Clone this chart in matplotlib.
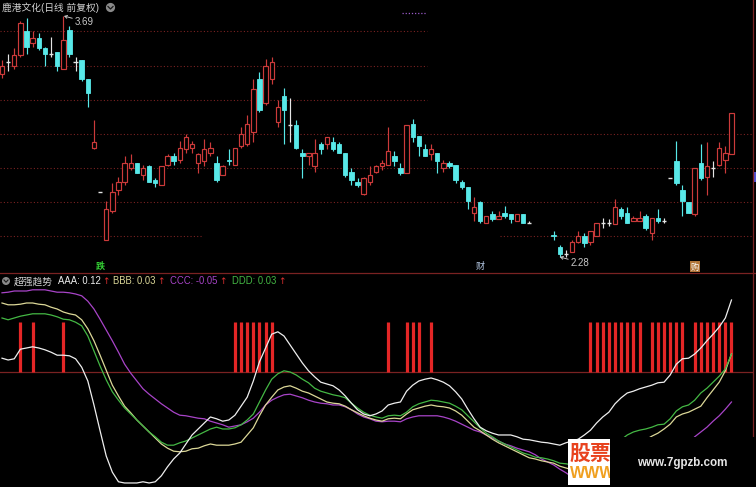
import matplotlib
matplotlib.use("Agg")
import matplotlib.pyplot as plt
from matplotlib.patches import Rectangle, Circle
from matplotlib.lines import Line2D

plt.rcParams['font.family'] = ['Liberation Sans', 'Noto Sans CJK SC', 'DejaVu Sans']

# ---------------- daily prices (None = suspended session) ----------------
opens = [3.35, 3.42, 3.40, 3.46, 3.60, 3.53, 3.56, 3.50, 3.47, 3.48,
         3.38, 3.61, 3.42, 3.43, 3.32, 2.92, 2.66, 2.38, 2.55, 2.67,
         2.72, 2.80, 2.83, 2.76, 2.81, 2.73, 2.70, 2.82, 2.87, 2.85,
         2.91, 2.92, 2.83, 2.84, 2.89, 2.83, 2.76, 2.85, 2.82, 2.93,
         2.94, 3.01, 3.32, 3.18, 3.32, 3.07, 3.22, 3.05, 3.05, 2.89,
         2.87, 2.81, 2.94, 2.94, 2.95, 2.94, 2.89, 2.78, 2.72, 2.65,
         2.72, 2.78, 2.81, 2.82, 2.87, 2.80, 2.77, 3.06, 2.99, 2.91,
         2.88, 2.89, 2.80, 2.83, 2.82, 2.72, 2.69, 2.54, 2.60, 2.48,
         2.53, 2.50, 2.54, 2.53, 2.49, 2.53, 2.48, None, None, None,
         2.41, 2.34, 2.30, 2.31, 2.37, 2.40, 2.37, 2.40, 2.48, 2.48,
         2.47, 2.56, 2.54, 2.49, 2.49, 2.52, 2.42, 2.51, 2.49, 2.74,
         2.84, 2.67, 2.60, 2.53, 2.83, 2.75, 2.80, 2.82, 2.85, 2.88]
highs = [3.43, 3.47, 3.50, 3.66, 3.68, 3.60, 3.59, 3.51, 3.57, 3.48,
         3.69, 3.63, 3.45, 3.43, 3.32, 3.08, 2.66, 2.61, 2.71, 2.75,
         2.87, 2.88, 2.83, 2.82, 2.82, 2.74, 2.81, 2.88, 2.89, 2.96,
         3.00, 2.96, 2.89, 2.97, 2.95, 2.87, 2.82, 2.91, 2.92, 3.04,
         3.11, 3.32, 3.36, 3.44, 3.45, 3.20, 3.27, 3.21, 3.08, 2.91,
         2.89, 2.97, 2.95, 2.98, 2.98, 2.95, 2.89, 2.80, 2.74, 2.75,
         2.81, 2.82, 2.85, 3.04, 2.90, 2.83, 3.05, 3.09, 2.99, 2.94,
         2.94, 2.89, 2.85, 2.84, 2.82, 2.73, 2.69, 2.63, 2.61, 2.52,
         2.55, 2.55, 2.58, 2.53, 2.53, 2.53, 2.49, None, None, None,
         2.43, 2.35, 2.32, 2.38, 2.43, 2.42, 2.43, 2.48, 2.51, 2.50,
         2.62, 2.57, 2.57, 2.52, 2.55, 2.53, 2.51, 2.56, 2.51, 2.74,
         2.96, 2.70, 2.60, 2.80, 2.94, 2.95, 2.84, 2.95, 2.93, 3.12]
lows = [3.33, 3.37, 3.38, 3.45, 3.47, 3.51, 3.49, 3.40, 3.45, 3.37,
        3.38, 3.45, 3.37, 3.31, 3.16, 2.91, 2.66, 2.38, 2.54, 2.64,
        2.70, 2.79, 2.77, 2.73, 2.72, 2.69, 2.70, 2.81, 2.82, 2.83,
        2.89, 2.89, 2.77, 2.81, 2.87, 2.72, 2.76, 2.82, 2.82, 2.92,
        2.93, 2.95, 3.13, 3.17, 3.29, 3.04, 2.94, 2.95, 2.91, 2.74,
        2.82, 2.78, 2.88, 2.91, 2.90, 2.89, 2.75, 2.70, 2.69, 2.64,
        2.70, 2.77, 2.79, 2.82, 2.81, 2.76, 2.77, 2.95, 2.87, 2.87,
        2.85, 2.77, 2.78, 2.80, 2.71, 2.68, 2.56, 2.49, 2.48, 2.48,
        2.49, 2.50, 2.51, 2.48, 2.49, 2.48, 2.48, None, None, None,
        2.38, 2.28, 2.28, 2.31, 2.36, 2.34, 2.35, 2.40, 2.45, 2.46,
        2.47, 2.50, 2.48, 2.49, 2.49, 2.44, 2.38, 2.48, 2.48, 2.74,
        2.70, 2.52, 2.54, 2.52, 2.73, 2.64, 2.75, 2.81, 2.77, 2.88]
closes = [3.40, 3.42, 3.46, 3.65, 3.51, 3.56, 3.50, 3.47, 3.47, 3.40,
          3.55, 3.47, 3.42, 3.32, 3.24, 2.95, 2.66, 2.56, 2.66, 2.72,
          2.83, 2.83, 2.77, 2.80, 2.72, 2.71, 2.81, 2.87, 2.84, 2.92,
          2.98, 2.94, 2.88, 2.91, 2.92, 2.73, 2.81, 2.84, 2.92, 3.00,
          3.06, 3.26, 3.14, 3.40, 3.42, 3.16, 3.14, 3.05, 2.92, 2.87,
          2.89, 2.89, 2.91, 2.98, 2.91, 2.89, 2.76, 2.73, 2.70, 2.74,
          2.76, 2.81, 2.83, 2.90, 2.84, 2.77, 3.05, 2.98, 2.93, 2.87,
          2.91, 2.84, 2.83, 2.81, 2.73, 2.69, 2.61, 2.57, 2.49, 2.52,
          2.50, 2.52, 2.52, 2.50, 2.53, 2.48, 2.48, None, None, None,
          2.40, 2.30, 2.30, 2.37, 2.40, 2.36, 2.43, 2.48, 2.48, 2.48,
          2.57, 2.52, 2.48, 2.51, 2.51, 2.45, 2.51, 2.49, 2.49, 2.74,
          2.71, 2.61, 2.54, 2.80, 2.74, 2.81, 2.80, 2.92, 2.89, 3.12]

price_grid = [3.6, 3.4, 3.2, 3.0, 2.8, 2.6, 2.4]

# ---------------- 超强趋势 indicator ----------------
aaa = [0.023, 0.020, 0.022, 0.038, 0.040, 0.042, 0.040, 0.037, 0.033, 0.028,
       0.028, 0.027, 0.022, 0.008, -0.015, -0.055, -0.098, -0.140, -0.167, -0.183,
       -0.185, -0.185, -0.185, -0.183, -0.185, -0.183, -0.173, -0.158, -0.145, -0.135,
       -0.120, -0.105, -0.095, -0.085, -0.075, -0.078, -0.082, -0.080, -0.072, -0.057,
       -0.042, -0.015, 0.017, 0.040, 0.063, 0.067, 0.060, 0.045, 0.030, 0.015,
       0.002, -0.008, -0.017, -0.020, -0.023, -0.030, -0.040, -0.052, -0.063, -0.070,
       -0.073, -0.070, -0.065, -0.055, -0.052, -0.050, -0.032, -0.022, -0.015, -0.012,
       -0.010, -0.013, -0.017, -0.023, -0.033, -0.045, -0.062, -0.078, -0.092, -0.098,
       -0.102, -0.105, -0.105, -0.105, -0.108, -0.112, -0.113, -0.115, -0.117, -0.118,
       -0.120, -0.122, -0.118, -0.115, -0.112, -0.105, -0.097, -0.085, -0.075, -0.067,
       -0.053, -0.043, -0.035, -0.032, -0.028, -0.025, -0.022, -0.018, -0.017, -0.005,
       0.013, 0.022, 0.023, 0.030, 0.040, 0.052, 0.063, 0.075, 0.090, 0.120]
bbb = [0.115, 0.112, 0.112, 0.113, 0.115, 0.115, 0.113, 0.112, 0.108, 0.105,
       0.100, 0.097, 0.095, 0.087, 0.072, 0.052, 0.028, 0.003, -0.022, -0.040,
       -0.057, -0.068, -0.080, -0.090, -0.100, -0.110, -0.120, -0.127, -0.132, -0.133,
       -0.132, -0.128, -0.127, -0.123, -0.120, -0.122, -0.122, -0.122, -0.120, -0.117,
       -0.105, -0.093, -0.073, -0.055, -0.042, -0.030, -0.025, -0.023, -0.027, -0.032,
       -0.035, -0.040, -0.045, -0.050, -0.052, -0.053, -0.057, -0.063, -0.068, -0.073,
       -0.077, -0.080, -0.082, -0.078, -0.077, -0.078, -0.070, -0.063, -0.060, -0.057,
       -0.055, -0.057, -0.058, -0.060, -0.065, -0.072, -0.082, -0.092, -0.098, -0.105,
       -0.112, -0.118, -0.123, -0.128, -0.133, -0.138, -0.143, -0.145, -0.148, -0.150,
       -0.152, -0.157, -0.160, -0.163, -0.165, -0.165, -0.163, -0.160, -0.157, -0.152,
       -0.147, -0.140, -0.133, -0.127, -0.120, -0.113, -0.107, -0.102, -0.095, -0.087,
       -0.075, -0.070, -0.067, -0.062, -0.057, -0.043, -0.030, -0.017, 0.002, 0.030]
ccc = [0.132, 0.133, 0.135, 0.135, 0.135, 0.137, 0.137, 0.137, 0.135, 0.133,
       0.133, 0.132, 0.130, 0.127, 0.118, 0.105, 0.088, 0.070, 0.052, 0.033,
       0.013, -0.002, -0.015, -0.028, -0.037, -0.045, -0.053, -0.060, -0.067, -0.072,
       -0.073, -0.075, -0.077, -0.078, -0.082, -0.085, -0.088, -0.092, -0.090, -0.088,
       -0.083, -0.077, -0.067, -0.055, -0.047, -0.042, -0.038, -0.037, -0.040, -0.043,
       -0.047, -0.050, -0.052, -0.053, -0.055, -0.055, -0.058, -0.063, -0.070, -0.075,
       -0.078, -0.082, -0.083, -0.082, -0.082, -0.083, -0.078, -0.075, -0.073, -0.073,
       -0.073, -0.073, -0.075, -0.078, -0.082, -0.087, -0.092, -0.097, -0.100, -0.105,
       -0.110, -0.115, -0.120, -0.123, -0.127, -0.130, -0.133, -0.138, -0.145, -0.150,
       -0.155, -0.162, -0.168, -0.175, -0.180, -0.183, -0.185, -0.187, -0.187, -0.187,
       -0.187, -0.187, -0.185, -0.183, -0.180, -0.175, -0.168, -0.162, -0.155, -0.147,
       -0.138, -0.130, -0.120, -0.108, -0.100, -0.092, -0.082, -0.073, -0.062, -0.050]
ddd = [0.090, 0.087, 0.090, 0.093, 0.095, 0.097, 0.097, 0.097, 0.095, 0.092,
       0.088, 0.087, 0.083, 0.077, 0.060, 0.035, 0.010, -0.013, -0.033, -0.047,
       -0.060, -0.070, -0.080, -0.090, -0.100, -0.108, -0.117, -0.122, -0.122, -0.118,
       -0.115, -0.110, -0.105, -0.100, -0.095, -0.092, -0.095, -0.095, -0.093, -0.088,
       -0.080, -0.070, -0.050, -0.030, -0.012, -0.003, 0.002, 0.000, -0.005, -0.012,
       -0.018, -0.027, -0.032, -0.035, -0.038, -0.040, -0.043, -0.052, -0.060, -0.067,
       -0.072, -0.075, -0.077, -0.073, -0.072, -0.073, -0.067, -0.058, -0.053, -0.050,
       -0.047, -0.048, -0.050, -0.052, -0.057, -0.063, -0.073, -0.083, -0.093, -0.102,
       -0.108, -0.115, -0.120, -0.125, -0.130, -0.135, -0.138, -0.142, -0.143, -0.145,
       -0.148, -0.152, -0.153, -0.155, -0.155, -0.153, -0.150, -0.145, -0.138, -0.132,
       -0.125, -0.113, -0.105, -0.100, -0.097, -0.095, -0.092, -0.088, -0.087, -0.078,
       -0.065, -0.058, -0.055, -0.047, -0.035, -0.027, -0.017, -0.007, 0.005, 0.030]

signal_days = [3, 5, 10, 38, 39, 40, 41, 42, 43, 44, 63, 66, 67, 68, 70,
               96, 97, 98, 99, 100, 101, 102, 103, 104,
               106, 107, 108, 109, 110, 111,
               113, 114, 115, 116, 117, 118, 119]
signal_level = 0.083

legend_items = [("AAA: 0.12", "#eeeeee"), ("BBB: 0.03", "#dcd898"),
                ("CCC: -0.05", "#a844c8"), ("DDD: 0.03", "#44b844")]

# ---------------- figure ----------------
W, H = 756, 487
fig = plt.figure(figsize=(W / 100, H / 100), dpi=100, facecolor="black")
T = fig.dpi_scale_trans


def P(x, y):
    return x / 100.0, (H - y) / 100.0


ax_k = fig.add_axes([0, 1 - 273 / H, 753 / W, 273 / H])
ax_i = fig.add_axes([0, 0, 753 / W, 214 / H])
for ax in (ax_k, ax_i):
    ax.set_facecolor("black")
    ax.set_axis_off()
    ax.set_xlim(-2 / 6.13, 751 / 6.13)
ax_k.set_ylim(2.1862, 3.7836)
ax_i.set_ylim(-0.1917, 0.165)

RED = "#cc3a3a"
CYAN = "#58e8e8"
DOJI = "#e4e4e4"
GRID = "#7a2222"

# dotted price grid
x_end = 751 / 6.13
for lvl in price_grid:
    if lvl >= 3.2:
        spans = [(-0.4, 69.3)]
    elif lvl <= 2.4:
        spans = [(-0.4, 32.8), (81.2, x_end)]
    else:
        spans = [(-0.4, x_end)]
    for a, b in spans:
        ax_k.hlines(lvl, a, b, colors=GRID, lw=0.8, linestyles=(0, (1, 2)), zorder=1)

# candles
bw = 0.72
for i, (o, h, l, c) in enumerate(zip(opens, highs, lows, closes)):
    if o is None:
        continue
    if c > o:
        ax_k.add_patch(Rectangle((i - bw / 2, o), bw, c - o, facecolor="black",
                                 edgecolor=RED, lw=0.85, zorder=3))
        ax_k.vlines(i, c, h, colors=RED, lw=0.85, zorder=3)
        ax_k.vlines(i, l, o, colors=RED, lw=0.85, zorder=3)
    elif c < o:
        ax_k.add_patch(Rectangle((i - bw / 2, c), bw, o - c, facecolor=CYAN,
                                 edgecolor=CYAN, lw=0.6, zorder=3))
        ax_k.vlines(i, l, h, colors=CYAN, lw=0.85, zorder=3)
    else:
        ax_k.hlines(c, i - bw / 2, i + bw / 2, colors=DOJI, lw=1.0, zorder=3)
        if h > l:
            ax_k.vlines(i, l, h, colors=DOJI, lw=0.85, zorder=3)

# high / low annotations
hi_i = max(range(len(highs)), key=lambda k: highs[k] if highs[k] is not None else -1)
lo_i = min(range(len(lows)), key=lambda k: lows[k] if lows[k] is not None else 99)
ax_k.annotate(f"{highs[hi_i]:.2f}", xy=(hi_i + 0.1, highs[hi_i]), xytext=(8, -4),
              textcoords="offset points", color="#c8c8c8", fontsize=7,
              va="center", ha="left",
              arrowprops=dict(arrowstyle="->,head_length=0.25,head_width=0.15",
                              color="#c8c8c8", lw=0.7, shrinkA=0, shrinkB=0))
ax_k.annotate(f"{lows[lo_i]:.2f}", xy=(lo_i, lows[lo_i]), xytext=(8, -4),
              textcoords="offset points", color="#c8c8c8", fontsize=7,
              va="center", ha="left",
              arrowprops=dict(arrowstyle="->,head_length=0.25,head_width=0.15",
                              color="#c8c8c8", lw=0.7, shrinkA=0, shrinkB=0))

# event markers under the price panel
ax_k.text(16, 2.20, "跌", color="#34d234", fontsize=6.5, fontweight="bold",
          ha="center", va="bottom", family=["Noto Sans CJK SC"])
ax_k.text(78, 2.20, "财", color="#b8cce8", fontsize=6.5,
          ha="center", va="bottom", family=["Noto Sans CJK SC"])
ax_k.text(113, 2.195, "购", color="#ffffff", fontsize=6.0, ha="center", va="bottom",
          family=["Noto Sans CJK SC"],
          bbox=dict(boxstyle="square,pad=0.12", facecolor="#b07438", edgecolor="none"))

# indicator panel
idx = list(range(len(aaa)))
ax_i.axhline(0, color=GRID, lw=0.9, zorder=1)
ax_i.vlines(signal_days, 0, signal_level, colors="#e42626", lw=2.3, zorder=2)
ax_i.plot(idx, ccc, color="#a844c8", lw=0.9, zorder=3)
ax_i.plot(idx, bbb, color="#dcd898", lw=0.9, zorder=3)
ax_i.plot(idx, ddd, color="#44b844", lw=0.9, zorder=3)
ax_i.plot(idx, aaa, color="#eeeeee", lw=0.9, zorder=4)

# panel separators and right border
fig.add_artist(Line2D([0, 756 / 100], [P(0, 273)[1]] * 2, transform=T,
                      color=GRID, lw=0.9))
fig.add_artist(Line2D([P(753, 0)[0]] * 2, [P(0, 0)[1], P(0, 437)[1]], transform=T,
                      color=GRID, lw=0.9))
fig.add_artist(Rectangle(P(753, 182), 3 / 100, 10 / 100, transform=T,
                         facecolor="#5050d0", edgecolor="none"))
fig.add_artist(Line2D([P(402, 0)[0], P(427, 0)[0]], [P(0, 13)[1]] * 2, transform=T,
                      color="#9a5ac8", lw=0.9, linestyle=(0, (1, 1.5))))

# titles
fig.text(*P(2, 8), "鹿港文化(日线 前复权)", transform=T, color="#d0d0d0",
         fontsize=7, va="center", ha="left")
fig.add_artist(Circle(P(110.5, 7.5), 4.6 / 100, transform=T, facecolor="#8a8a8a",
                      edgecolor="none"))
fig.add_artist(Line2D([P(108, 0)[0], P(110.5, 0)[0], P(113, 0)[0]],
                      [P(0, 6.5)[1], P(0, 9)[1], P(0, 6.5)[1]], transform=T,
                      color="#1a1a1a", lw=0.9))

fig.add_artist(Circle(P(6, 281), 4.0 / 100, transform=T, facecolor="#8a8a8a",
                      edgecolor="none"))
fig.add_artist(Line2D([P(4, 0)[0], P(6, 0)[0], P(8, 0)[0]],
                      [P(0, 280)[1], P(0, 282.2)[1], P(0, 280)[1]], transform=T,
                      color="#1a1a1a", lw=0.8))
fig.text(*P(14, 281.5), "超强趋势", transform=T, color="#d0d0d0", fontsize=7,
         va="center", ha="left")

# legend values, each followed by a small red arrow placed right after its text
renderer = fig.canvas.get_renderer()
label_x = [58, 113, 170, 232]
for (txt, col), lx in zip(legend_items, label_x):
    t = fig.text(*P(lx, 281.5), txt, transform=T, color=col, fontsize=6.85,
                 va="center", ha="left")
    right_px = t.get_window_extent(renderer).x1
    fig.text((right_px + 1.5) / 100, (H - 281.5) / 100, "↑", transform=T,
             color="#e03030", fontsize=6.4, va="center", ha="left",
             family=["DejaVu Sans"])

# site badge in the lower right corner
fig.add_artist(Rectangle(P(610, 487), 146 / 100, 50 / 100, transform=T,
                         facecolor="black", edgecolor="none", zorder=10))
badge = Rectangle(P(568, 485), 42 / 100, 46 / 100, transform=T,
                  facecolor="white", edgecolor="none", zorder=11)
fig.add_artist(badge)
t1 = fig.text(*P(570, 453), "股票", transform=T, color="#e8421e", fontsize=15,
              fontweight="bold", va="center", ha="left", zorder=12,
              family=["Noto Sans CJK SC"])
t2 = fig.text(*P(570, 473), "WWW", transform=T, color="#f0a020", fontsize=11.5,
              fontweight="bold", va="center", ha="left", zorder=12)
for t in (t1, t2):
    t.set_clip_path(badge)
fig.text(*P(637, 463), "www.7gpzb.com", transform=T, color="#e6e6e6", fontsize=8.4,
         fontweight="bold", va="center", ha="left", zorder=12)

fig.savefig("out.png", dpi=100, facecolor="black")
